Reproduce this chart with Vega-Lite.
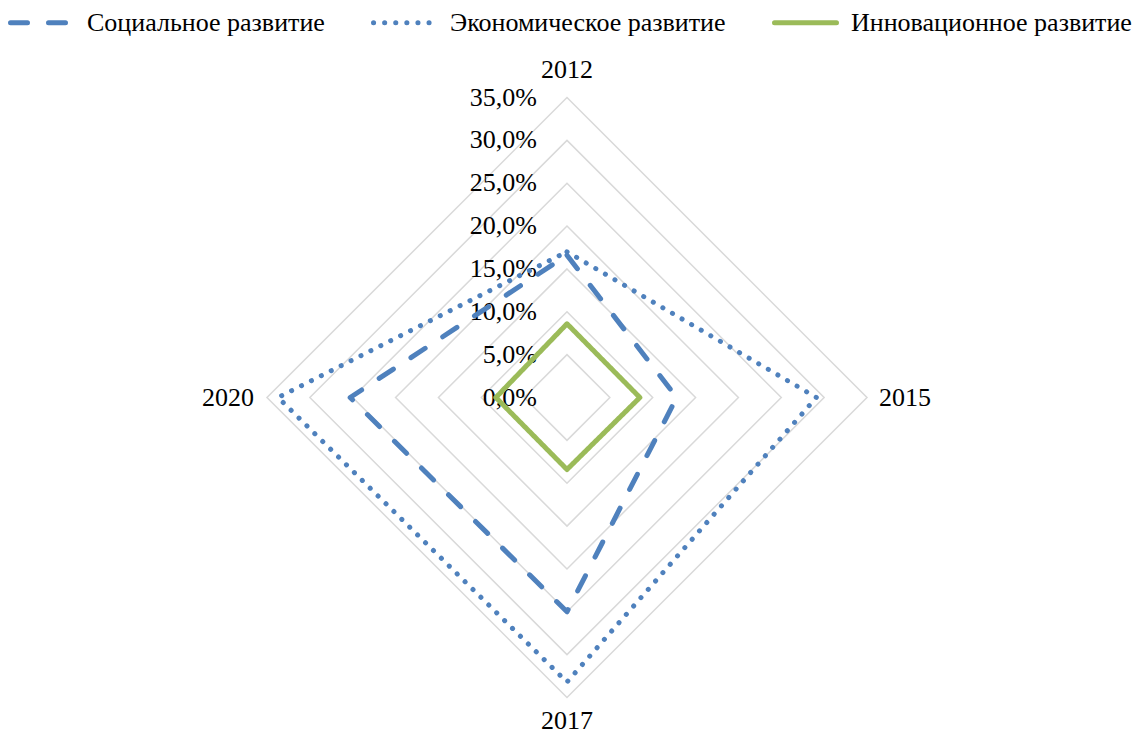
{
  "$schema": "https://vega.github.io/schema/vega-lite/v6.json",
  "width": 1132,
  "height": 735,
  "autosize": "none",
  "padding": 0,
  "background": "white",
  "config": {
    "font": "Liberation Serif",
    "view": {"stroke": null},
    "text": {"font": "Liberation Serif", "fontSize": 26, "color": "black"},
    "legend": {"orient": "none", "legendX": 8, "legendY": -11, "direction": "horizontal", "title": null, "symbolType": "stroke", "symbolSize": 3844, "symbolStrokeWidth": 5, "labelFont": "Liberation Serif", "labelFontSize": 26, "labelColor": "black", "labelOffset": 12, "columnPadding": 38, "padding": 0, "labelLimit": 400}
  },
  "datasets": {
    "series": [
      {"series": "Социальное развитие", "year": 2012, "v": 0.166},
      {"series": "Социальное развитие", "year": 2015, "v": 0.128},
      {"series": "Социальное развитие", "year": 2017, "v": 0.250},
      {"series": "Социальное развитие", "year": 2020, "v": 0.253},
      {"series": "Экономическое развитие", "year": 2012, "v": 0.170},
      {"series": "Экономическое развитие", "year": 2015, "v": 0.291},
      {"series": "Экономическое развитие", "year": 2017, "v": 0.332},
      {"series": "Экономическое развитие", "year": 2020, "v": 0.337},
      {"series": "Инновационное развитие", "year": 2012, "v": 0.086},
      {"series": "Инновационное развитие", "year": 2015, "v": 0.085},
      {"series": "Инновационное развитие", "year": 2017, "v": 0.084},
      {"series": "Инновационное развитие", "year": 2020, "v": 0.083}
    ],
    "grid": [
      {"year": 2012, "v": 0.05}, {"year": 2015, "v": 0.05}, {"year": 2017, "v": 0.05}, {"year": 2020, "v": 0.05},
      {"year": 2012, "v": 0.10}, {"year": 2015, "v": 0.10}, {"year": 2017, "v": 0.10}, {"year": 2020, "v": 0.10},
      {"year": 2012, "v": 0.15}, {"year": 2015, "v": 0.15}, {"year": 2017, "v": 0.15}, {"year": 2020, "v": 0.15},
      {"year": 2012, "v": 0.20}, {"year": 2015, "v": 0.20}, {"year": 2017, "v": 0.20}, {"year": 2020, "v": 0.20},
      {"year": 2012, "v": 0.25}, {"year": 2015, "v": 0.25}, {"year": 2017, "v": 0.25}, {"year": 2020, "v": 0.25},
      {"year": 2012, "v": 0.30}, {"year": 2015, "v": 0.30}, {"year": 2017, "v": 0.30}, {"year": 2020, "v": 0.30},
      {"year": 2012, "v": 0.35}, {"year": 2015, "v": 0.35}, {"year": 2017, "v": 0.35}, {"year": 2020, "v": 0.35}
    ],
    "ticks": [
      {"year": 2012, "v": 0.00, "label": "0,0%"},
      {"year": 2012, "v": 0.05, "label": "5,0%"},
      {"year": 2012, "v": 0.10, "label": "10,0%"},
      {"year": 2012, "v": 0.15, "label": "15,0%"},
      {"year": 2012, "v": 0.20, "label": "20,0%"},
      {"year": 2012, "v": 0.25, "label": "25,0%"},
      {"year": 2012, "v": 0.30, "label": "30,0%"},
      {"year": 2012, "v": 0.35, "label": "35,0%"}
    ],
    "cats": [
      {"year": 2012, "v": 0.35, "label": "2012"},
      {"year": 2015, "v": 0.35, "label": "2015"},
      {"year": 2017, "v": 0.35, "label": "2017"},
      {"year": 2020, "v": 0.35, "label": "2020"}
    ]
  },
  "encoding": {
    "x": {"field": "x", "type": "quantitative", "scale": {"domain": [-0.6615, 0.65917], "nice": false, "zero": false}, "axis": null},
    "y": {"field": "y", "type": "quantitative", "scale": {"domain": [-0.39375, 0.46375], "nice": false, "zero": false}, "axis": null}
  },
  "layer": [
    {
      "data": {"name": "grid"},
      "transform": [
        {"calculate": "datum.year == 2015 ? datum.v : datum.year == 2020 ? -datum.v : 0", "as": "x"},
        {"calculate": "datum.year == 2012 ? datum.v : datum.year == 2017 ? -datum.v : 0", "as": "y"}
      ],
      "mark": {"type": "line", "interpolate": "linear-closed", "color": "#d9d9d9", "strokeWidth": 1.5},
      "encoding": {
        "detail": {"field": "v", "type": "nominal"},
        "order": {"field": "year", "type": "quantitative"}
      }
    },
    {
      "data": {"name": "ticks"},
      "transform": [
        {"calculate": "0", "as": "x"},
        {"calculate": "datum.v", "as": "y"}
      ],
      "mark": {"type": "text", "align": "right", "baseline": "middle", "dx": -30},
      "encoding": {"text": {"field": "label"}}
    },
    {
      "data": {"name": "cats"},
      "transform": [
        {"filter": "datum.year == 2012"},
        {"calculate": "0", "as": "x"},
        {"calculate": "datum.v", "as": "y"}
      ],
      "mark": {"type": "text", "align": "center", "baseline": "middle", "dy": -28},
      "encoding": {"text": {"field": "label"}}
    },
    {
      "data": {"name": "cats"},
      "transform": [
        {"filter": "datum.year == 2015"},
        {"calculate": "datum.v", "as": "x"},
        {"calculate": "0", "as": "y"}
      ],
      "mark": {"type": "text", "align": "left", "baseline": "middle", "dx": 12},
      "encoding": {"text": {"field": "label"}}
    },
    {
      "data": {"name": "cats"},
      "transform": [
        {"filter": "datum.year == 2017"},
        {"calculate": "0", "as": "x"},
        {"calculate": "-datum.v", "as": "y"}
      ],
      "mark": {"type": "text", "align": "center", "baseline": "middle", "dy": 23},
      "encoding": {"text": {"field": "label"}}
    },
    {
      "data": {"name": "cats"},
      "transform": [
        {"filter": "datum.year == 2020"},
        {"calculate": "-datum.v", "as": "x"},
        {"calculate": "0", "as": "y"}
      ],
      "mark": {"type": "text", "align": "right", "baseline": "middle", "dx": -13},
      "encoding": {"text": {"field": "label"}}
    },
    {
      "data": {"name": "series"},
      "transform": [
        {"calculate": "datum.year == 2015 ? datum.v : datum.year == 2020 ? -datum.v : 0", "as": "x"},
        {"calculate": "datum.year == 2012 ? datum.v : datum.year == 2017 ? -datum.v : 0", "as": "y"}
      ],
      "mark": {"type": "line", "interpolate": "linear-closed", "strokeWidth": 5, "strokeCap": "round", "strokeJoin": "round"},
      "encoding": {
        "order": {"field": "year", "type": "quantitative"},
        "color": {
          "field": "series", "type": "nominal",
          "scale": {"domain": ["Социальное развитие", "Экономическое развитие", "Инновационное развитие"], "range": ["#4f81bd", "#4f81bd", "#9bbb59"]},
          "legend": {"encode": {"symbols": {"update": {"strokeCap": {"value": "round"}}}}}
        },
        "strokeDash": {
          "field": "series", "type": "nominal",
          "scale": {"domain": ["Социальное развитие", "Экономическое развитие", "Инновационное развитие"], "range": [[17, 21], [0.1, 11], [1, 0]]},
          "legend": {"encode": {"symbols": {"update": {"strokeCap": {"value": "round"}}}}}
        }
      }
    }
  ]
}
